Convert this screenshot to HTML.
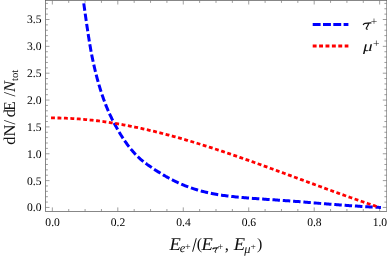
<!DOCTYPE html>
<html><head><meta charset="utf-8"><title>plot</title>
<style>
html,body{margin:0;padding:0;background:#fff;}
body{width:387px;height:258px;overflow:hidden;position:relative;font-family:"Liberation Serif",serif;}
svg{position:absolute;left:0;top:0;display:block;will-change:transform;}
.s,.s text,.s tspan{font-family:"Liberation Serif",serif;text-rendering:geometricPrecision;}
</style>
</head><body>
<svg width="387" height="258" viewBox="0 0 387 258">
<defs><clipPath id="c"><rect x="45.5" y="0.5" width="341.3" height="210.9"/></clipPath></defs>
<g stroke="#606060" stroke-width="0.75" fill="none">
<rect x="45.5" y="0.5" width="341.3" height="210.9"/>
<path d="M52.35 211.4v-4M52.35 0.5v4M68.72 211.4v-2.4M68.72 0.5v2.4M85.08 211.4v-2.4M85.08 0.5v2.4M101.45 211.4v-2.4M101.45 0.5v2.4M117.81 211.4v-4M117.81 0.5v4M134.18 211.4v-2.4M134.18 0.5v2.4M150.54 211.4v-2.4M150.54 0.5v2.4M166.91 211.4v-2.4M166.91 0.5v2.4M183.27 211.4v-4M183.27 0.5v4M199.63 211.4v-2.4M199.63 0.5v2.4M216.0 211.4v-2.4M216.0 0.5v2.4M232.37 211.4v-2.4M232.37 0.5v2.4M248.73 211.4v-4M248.73 0.5v4M265.1 211.4v-2.4M265.1 0.5v2.4M281.46 211.4v-2.4M281.46 0.5v2.4M297.83 211.4v-2.4M297.83 0.5v2.4M314.19 211.4v-4M314.19 0.5v4M330.56 211.4v-2.4M330.56 0.5v2.4M346.92 211.4v-2.4M346.92 0.5v2.4M363.29 211.4v-2.4M363.29 0.5v2.4M379.65 211.4v-4M379.65 0.5v4M45.5 207.45h4M386.8 207.45h-4M45.5 202.08h2.4M386.8 202.08h-2.4M45.5 196.71h2.4M386.8 196.71h-2.4M45.5 191.34h2.4M386.8 191.34h-2.4M45.5 185.97h2.4M386.8 185.97h-2.4M45.5 180.6h4M386.8 180.6h-4M45.5 175.23h2.4M386.8 175.23h-2.4M45.5 169.86h2.4M386.8 169.86h-2.4M45.5 164.49h2.4M386.8 164.49h-2.4M45.5 159.12h2.4M386.8 159.12h-2.4M45.5 153.75h4M386.8 153.75h-4M45.5 148.38h2.4M386.8 148.38h-2.4M45.5 143.01h2.4M386.8 143.01h-2.4M45.5 137.64h2.4M386.8 137.64h-2.4M45.5 132.27h2.4M386.8 132.27h-2.4M45.5 126.9h4M386.8 126.9h-4M45.5 121.53h2.4M386.8 121.53h-2.4M45.5 116.16h2.4M386.8 116.16h-2.4M45.5 110.79h2.4M386.8 110.79h-2.4M45.5 105.42h2.4M386.8 105.42h-2.4M45.5 100.05h4M386.8 100.05h-4M45.5 94.68h2.4M386.8 94.68h-2.4M45.5 89.31h2.4M386.8 89.31h-2.4M45.5 83.94h2.4M386.8 83.94h-2.4M45.5 78.57h2.4M386.8 78.57h-2.4M45.5 73.2h4M386.8 73.2h-4M45.5 67.83h2.4M386.8 67.83h-2.4M45.5 62.46h2.4M386.8 62.46h-2.4M45.5 57.09h2.4M386.8 57.09h-2.4M45.5 51.72h2.4M386.8 51.72h-2.4M45.5 46.35h4M386.8 46.35h-4M45.5 40.98h2.4M386.8 40.98h-2.4M45.5 35.61h2.4M386.8 35.61h-2.4M45.5 30.24h2.4M386.8 30.24h-2.4M45.5 24.87h2.4M386.8 24.87h-2.4M45.5 19.5h4M386.8 19.5h-4M45.5 14.13h2.4M386.8 14.13h-2.4M45.5 8.76h2.4M386.8 8.76h-2.4M45.5 3.39h2.4M386.8 3.39h-2.4" stroke="#757575" stroke-width="0.7"/>
</g>
<g clip-path="url(#c)" fill="none">
<polyline points="83.77,3.39 84.15,6.16 84.54,8.93 84.92,11.68 85.30,14.43 85.69,17.16 86.07,19.86 86.46,22.54 86.84,25.19 87.23,27.80 87.61,30.38 87.99,32.91 88.38,35.41 88.76,37.85 89.15,40.25 89.53,42.59 89.92,44.88 90.30,47.11 90.68,49.29 91.07,51.40 91.45,53.45 91.84,55.44 92.22,57.37 92.60,59.22 92.99,61.02 93.37,62.79 93.76,64.51 94.14,66.20 94.53,67.86 94.91,69.48 95.29,71.07 95.68,72.63 96.06,74.16 96.45,75.66 96.83,77.13 97.21,78.57 97.60,79.98 97.98,81.37 98.37,82.73 98.75,84.07 99.14,85.38 99.52,86.67 99.90,87.94 100.29,89.19 100.67,90.42 101.06,91.62 101.44,92.81 101.82,93.97 102.21,95.12 102.59,96.25 102.98,97.36 103.36,98.46 103.75,99.54 104.13,100.60 104.51,101.64 104.90,102.67 105.28,103.67 105.67,104.66 106.05,105.63 106.43,106.58 106.82,107.52 107.20,108.44 107.59,109.35 107.97,110.25 108.36,111.13 108.74,112.00 109.12,112.85 109.51,113.70 109.89,114.53 110.28,115.35 110.66,116.16 111.04,116.96 111.43,117.76 111.81,118.54 112.20,119.31 112.58,120.07 112.97,120.83 113.35,121.58 113.73,122.32 114.12,123.05 114.50,123.78 114.89,124.50 115.27,125.22 115.65,125.93 116.04,126.63 116.42,127.32 116.81,128.01 117.19,128.69 117.58,129.37 117.96,130.04 118.34,130.70 118.73,131.36 119.11,132.01 119.50,132.66 119.88,133.30 120.27,133.93 120.65,134.56 121.03,135.18 121.42,135.79 121.80,136.40 122.19,137.00 122.57,137.59 122.95,138.18 123.34,138.77 123.72,139.35 124.11,139.92 124.49,140.48 124.88,141.04 125.26,141.60 125.64,142.14 126.03,142.69 126.41,143.22 126.80,143.75 127.18,144.28 127.56,144.80 127.95,145.31 128.33,145.82 128.72,146.32 129.10,146.82 129.49,147.31 129.87,147.79 130.25,148.27 130.64,148.75 131.02,149.22 131.41,149.68 131.79,150.14 132.17,150.59 132.56,151.04 132.94,151.48 133.33,151.92 133.71,152.35 134.10,152.78 134.48,153.20 134.86,153.62 135.25,154.03 135.63,154.44 136.02,154.84 136.40,155.23 136.78,155.63 137.17,156.01 137.55,156.39 137.94,156.77 138.32,157.14 138.71,157.51 139.09,157.87 139.47,158.23 139.86,158.58 140.24,158.93 140.63,159.27 141.01,159.61 141.39,159.94 141.78,160.26 142.16,160.58 142.55,160.90 142.93,161.21 143.32,161.52 143.70,161.82 144.08,162.12 144.47,162.41 144.85,162.70 145.24,162.99 145.62,163.28 146.00,163.56 146.39,163.84 146.77,164.12 147.16,164.39 147.54,164.67 147.93,164.94 148.31,165.21 148.69,165.48 149.08,165.75 149.46,166.01 149.85,166.28 150.23,166.54 150.61,166.81 151.00,167.07 151.38,167.33 151.77,167.59 152.15,167.85 152.54,168.11 152.92,168.37 153.30,168.63 153.69,168.88 154.07,169.14 154.46,169.39 154.84,169.64 155.23,169.90 155.61,170.15 155.99,170.40 156.38,170.65 156.76,170.89 157.15,171.14 157.53,171.39 157.91,171.63 158.30,171.87 158.68,172.11 159.07,172.35 159.45,172.59 159.84,172.83 160.22,173.07 160.60,173.31 160.99,173.54 161.37,173.77 161.76,174.01 162.14,174.24 162.52,174.47 162.91,174.69 163.29,174.92 163.68,175.15 164.06,175.37 164.45,175.60 164.83,175.82 165.21,176.04 165.60,176.26 165.98,176.48 166.37,176.69 166.75,176.91 167.13,177.12 167.52,177.34 167.90,177.55 168.29,177.76 168.67,177.97 169.06,178.18 169.44,178.38 169.82,178.59 170.21,178.79 170.59,178.99 170.98,179.19 171.36,179.39 171.74,179.59 172.13,179.79 172.51,179.99 172.90,180.18 173.28,180.37 173.67,180.57 174.05,180.76 174.43,180.95 174.82,181.13 175.20,181.32 175.59,181.51 175.97,181.69 176.35,181.87 176.74,182.05 177.12,182.23 177.51,182.41 177.89,182.59 178.28,182.77 178.66,182.94 179.04,183.11 179.43,183.29 179.81,183.46 180.20,183.63 180.58,183.80 180.96,183.96 181.35,184.13 181.73,184.29 182.12,184.46 182.50,184.62 182.89,184.78 183.27,184.94 184.69,185.52 186.11,186.08 187.54,186.62 188.96,187.15 190.38,187.66 191.80,188.15 193.23,188.63 194.65,189.09 196.07,189.54 197.49,189.97 198.91,190.39 200.34,190.79 201.76,191.18 203.18,191.55 204.60,191.91 206.03,192.25 207.45,192.58 208.87,192.90 210.29,193.20 211.71,193.49 213.14,193.77 214.56,194.04 215.98,194.29 217.40,194.53 218.83,194.76 220.25,194.98 221.67,195.19 223.09,195.39 224.51,195.59 225.94,195.77 227.36,195.95 228.78,196.13 230.20,196.29 231.63,196.46 233.05,196.61 234.47,196.76 235.89,196.91 237.31,197.05 238.74,197.19 240.16,197.32 241.58,197.45 243.00,197.58 244.43,197.70 245.85,197.82 247.27,197.94 248.69,198.05 250.11,198.16 251.54,198.27 252.96,198.38 254.38,198.49 255.80,198.59 257.23,198.69 258.65,198.80 260.07,198.90 261.49,199.00 262.91,199.09 264.34,199.19 265.76,199.29 267.18,199.39 268.60,199.48 270.03,199.58 271.45,199.67 272.87,199.77 274.29,199.87 275.71,199.96 277.14,200.06 278.56,200.16 279.98,200.26 281.40,200.35 282.83,200.45 284.25,200.55 285.67,200.65 287.09,200.76 288.51,200.86 289.94,200.96 291.36,201.07 292.78,201.17 294.20,201.28 295.63,201.39 297.05,201.50 298.47,201.61 299.89,201.72 301.31,201.84 302.74,201.95 304.16,202.07 305.58,202.18 307.00,202.30 308.43,202.42 309.85,202.54 311.27,202.66 312.69,202.77 314.11,202.89 315.54,203.01 316.96,203.13 318.38,203.25 319.80,203.37 321.23,203.48 322.65,203.60 324.07,203.72 325.49,203.83 326.91,203.94 328.34,204.06 329.76,204.17 331.18,204.28 332.60,204.39 334.03,204.50 335.45,204.61 336.87,204.72 338.29,204.82 339.71,204.93 341.14,205.03 342.56,205.13 343.98,205.23 345.40,205.33 346.83,205.44 348.25,205.53 349.67,205.63 351.09,205.73 352.51,205.83 353.94,205.92 355.36,206.02 356.78,206.11 358.20,206.21 359.63,206.30 361.05,206.39 362.47,206.48 363.89,206.57 365.31,206.65 366.74,206.74 368.16,206.82 369.58,206.90 371.00,206.99 372.43,207.07 373.85,207.14 375.27,207.22 376.69,207.30 378.11,207.37 379.54,207.44 380.96,207.52" stroke="#0000ff" stroke-width="3.0" stroke-dasharray="7.5,2.835"/>
<polyline points="51.04,117.95 52.68,117.95 54.32,117.96 55.96,117.97 57.60,117.99 59.24,118.02 60.88,118.06 62.52,118.10 64.17,118.16 65.81,118.22 67.45,118.29 69.09,118.36 70.73,118.45 72.37,118.54 74.01,118.63 75.65,118.74 77.29,118.85 78.93,118.97 80.57,119.10 82.21,119.24 83.85,119.38 85.49,119.53 87.13,119.68 88.77,119.85 90.41,120.02 92.06,120.19 93.70,120.38 95.34,120.57 96.98,120.76 98.62,120.97 100.26,121.18 101.90,121.39 103.54,121.62 105.18,121.85 106.82,122.08 108.46,122.32 110.10,122.57 111.74,122.83 113.38,123.09 115.02,123.35 116.66,123.63 118.31,123.91 119.95,124.19 121.59,124.48 123.23,124.78 124.87,125.08 126.51,125.39 128.15,125.70 129.79,126.02 131.43,126.34 133.07,126.67 134.71,127.01 136.35,127.35 137.99,127.70 139.63,128.05 141.27,128.41 142.91,128.77 144.55,129.13 146.20,129.51 147.84,129.88 149.48,130.27 151.12,130.65 152.76,131.04 154.40,131.44 156.04,131.84 157.68,132.25 159.32,132.66 160.96,133.07 162.60,133.49 164.24,133.92 165.88,134.35 167.52,134.78 169.16,135.22 170.80,135.66 172.44,136.10 174.09,136.55 175.73,137.01 177.37,137.46 179.01,137.93 180.65,138.39 182.29,138.86 183.93,139.33 185.57,139.81 187.21,140.29 188.85,140.78 190.49,141.26 192.13,141.76 193.77,142.25 195.41,142.75 197.05,143.25 198.69,143.76 200.33,144.27 201.98,144.78 203.62,145.29 205.26,145.81 206.90,146.33 208.54,146.86 210.18,147.38 211.82,147.91 213.46,148.44 215.10,148.98 216.74,149.52 218.38,150.06 220.02,150.60 221.66,151.15 223.30,151.70 224.94,152.25 226.58,152.80 228.22,153.36 229.87,153.92 231.51,154.48 233.15,155.04 234.79,155.60 236.43,156.17 238.07,156.74 239.71,157.31 241.35,157.88 242.99,158.46 244.63,159.03 246.27,159.61 247.91,160.19 249.55,160.77 251.19,161.36 252.83,161.94 254.47,162.53 256.11,163.11 257.76,163.70 259.40,164.29 261.04,164.88 262.68,165.48 264.32,166.07 265.96,166.66 267.60,167.26 269.24,167.86 270.88,168.46 272.52,169.05 274.16,169.65 275.80,170.25 277.44,170.86 279.08,171.46 280.72,172.06 282.36,172.66 284.00,173.27 285.65,173.87 287.29,174.47 288.93,175.08 290.57,175.68 292.21,176.29 293.85,176.89 295.49,177.50 297.13,178.11 298.77,178.71 300.41,179.32 302.05,179.92 303.69,180.53 305.33,181.13 306.97,181.74 308.61,182.34 310.25,182.95 311.89,183.55 313.54,184.15 315.18,184.76 316.82,185.36 318.46,185.96 320.10,186.56 321.74,187.16 323.38,187.76 325.02,188.36 326.66,188.96 328.30,189.56 329.94,190.15 331.58,190.75 333.22,191.34 334.86,191.93 336.50,192.52 338.14,193.11 339.78,193.70 341.43,194.29 343.07,194.87 344.71,195.46 346.35,196.04 347.99,196.62 349.63,197.20 351.27,197.78 352.91,198.36 354.55,198.93 356.19,199.50 357.83,200.07 359.47,200.64 361.11,201.21 362.75,201.77 364.39,202.33 366.03,202.89 367.67,203.45 369.32,204.01 370.96,204.56 372.60,205.11 374.24,205.66 375.88,206.21 377.52,206.75 379.16,207.29" stroke="#ff0000" stroke-width="2.8" stroke-dasharray="3.88,2.567"/>
</g>
<g class="s" font-size="11.6" fill="#000">
<text x="52.6" y="226" text-anchor="middle">0.0</text>
<text x="118.0" y="226" text-anchor="middle">0.2</text>
<text x="183.5" y="226" text-anchor="middle">0.4</text>
<text x="248.9" y="226" text-anchor="middle">0.6</text>
<text x="314.4" y="226" text-anchor="middle">0.8</text>
<text x="379.9" y="226" text-anchor="middle">1.0</text>
<text x="41.5" y="211.3" text-anchor="end">0.0</text>
<text x="41.5" y="184.5" text-anchor="end">0.5</text>
<text x="41.5" y="157.7" text-anchor="end">1.0</text>
<text x="41.5" y="130.8" text-anchor="end">1.5</text>
<text x="41.5" y="103.9" text-anchor="end">2.0</text>
<text x="41.5" y="77.1" text-anchor="end">2.5</text>
<text x="41.5" y="50.2" text-anchor="end">3.0</text>
<text x="41.5" y="23.4" text-anchor="end">3.5</text>
</g>
<path d="M312.7 24.55h35.7" stroke="#0000ff" stroke-width="2.9" stroke-dasharray="7.9,2.4" fill="none"/>
<path d="M312.7 46.05h35.7" stroke="#ff0000" stroke-width="2.9" stroke-dasharray="3.9,2.5" fill="none"/>
<g class="s" fill="#111">
<path d="M363.4 24.5Q364.0 23.55 365.0 23.45L370.9 22.95" stroke="#111" stroke-width="1.3" fill="none" stroke-linecap="round"/>
<path d="M368.7 23.5Q367.6 26.5 366.4 27.9Q365.9 29.5 367.3 29.2" stroke="#111" stroke-width="1.15" fill="none" stroke-linecap="round"/>
<text x="370.7" y="25.2" font-size="11.5">+</text>
<text transform="translate(362.9,51.0) scale(1.33,1)" font-size="14.5" font-style="italic">μ</text>
<text x="372.9" y="46.9" font-size="11.5">+</text>
</g>
<g class="s" fill="#111">
<text transform="translate(169.5,249.5) scale(1.03,1)" font-size="18.0" font-style="italic" text-anchor="start">E</text>
<text x="182.5" y="252.2" font-size="12.5" font-style="italic" text-anchor="middle">e</text>
<text x="187.8" y="249.9" font-size="10.0" text-anchor="middle">+</text>
<path d="M192.6 251.7L196.3 238.2" stroke="#111" stroke-width="1.0" fill="none"/>
<text x="199.5" y="249.0" font-size="16" text-anchor="middle">(</text>
<text transform="translate(201.4,249.5) scale(1.03,1)" font-size="18.0" font-style="italic" text-anchor="start">E</text>
<g transform="translate(212.9,248.9) scale(0.72)" stroke="#111" fill="none" stroke-linecap="round"><path d="M0 0Q0.6 -0.95 1.6 -1.05L7.5 -1.55" stroke-width="1.5"/><path d="M5.3 -1.0Q4.2 2.0 3.0 3.4Q2.5 5.0 3.9 4.7" stroke-width="1.35"/></g>
<text x="220.4" y="249.5" font-size="10.0" text-anchor="middle">+</text>
<text x="226.8" y="249.5" font-size="17" text-anchor="middle">,</text>
<text transform="translate(233.8,249.5) scale(1.03,1)" font-size="18.0" font-style="italic" text-anchor="start">E</text>
<text x="247.3" y="252.9" font-size="12.5" font-style="italic" text-anchor="middle">μ</text>
<text x="253.1" y="250.2" font-size="9.5" text-anchor="middle">+</text>
<text x="259.7" y="249.2" font-size="16" text-anchor="middle">)</text>
<g transform="translate(14.8,144.8) rotate(-90)" font-size="16.5"><text x="0" y="0">dN</text><text x="20.2" y="0">/</text><text x="27.6" y="0">d</text><text transform="translate(34.0,0) scale(0.92,1)">E</text><text x="48.2" y="0">/</text><text x="52.9" y="0" font-style="italic">N</text><text x="63.8" y="3" font-size="10.7">tot</text></g>
</g>
</svg>
</body></html>
